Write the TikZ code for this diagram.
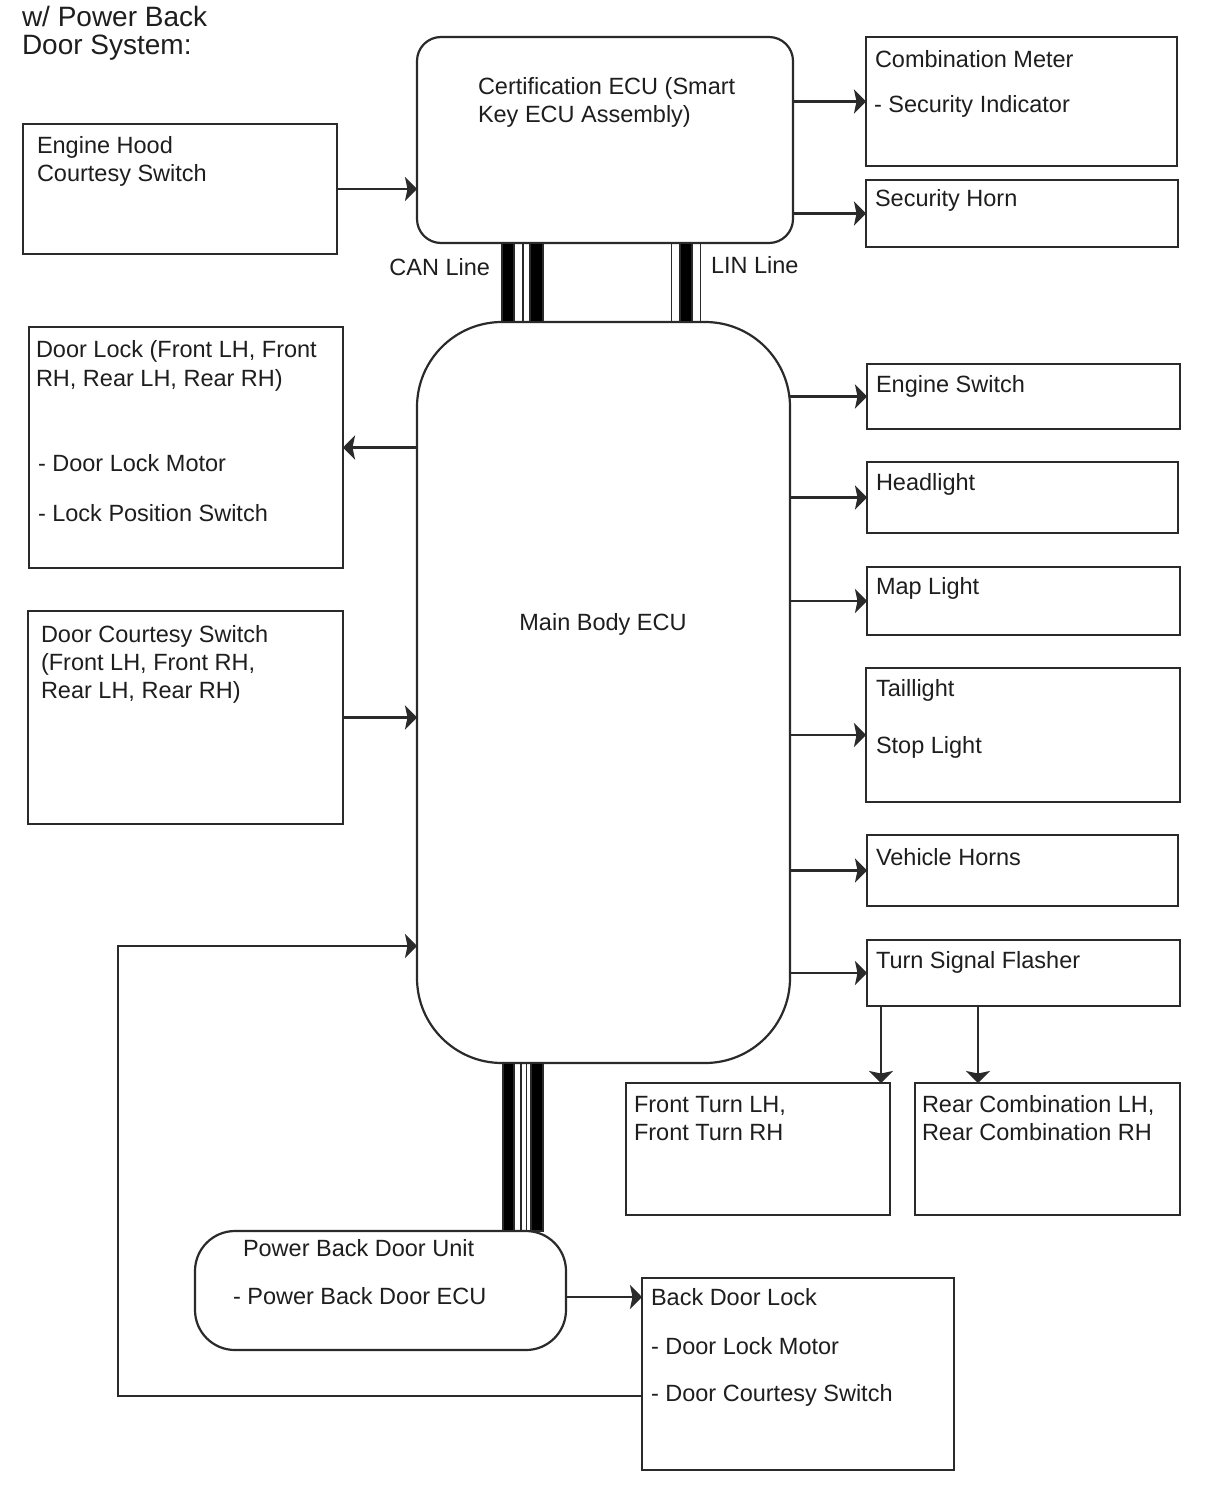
\documentclass[tikz,border=0pt]{standalone}
\usepackage{fontspec}
\setmainfont{Liberation Sans}
\usetikzlibrary{arrows.meta,calc}
\definecolor{lc}{HTML}{2A2A2A}
\definecolor{tc}{HTML}{1E1E1E}
\newcommand\fs{\fontsize{23.5}{28}\selectfont}
\newcommand\fstitle{\fontsize{28}{28}\selectfont}
\tikzset{
  box/.style={draw=lc, line width=2.2pt, rectangle, inner sep=0pt, outer sep=0pt, anchor=north west},
  rbox/.style={box, rounded corners=#1},
  txt/.style={anchor=base west, inner sep=0pt, outer sep=0pt, text=tc, font=\fs},
  arr/.style={draw=lc, line width=2.3pt, -{Stealth[length=12pt,width=24pt,inset=2.5pt]}},
  busfill/.style={fill=black},
  busline/.style={draw=lc, line width=1.8pt},
}
\begin{document}
\begin{tikzpicture}[x=1pt,y=-1pt]
\useasboundingbox[fill=white] (0,0) rectangle (1210,1498);

% title
\node[txt, font=\fstitle] (title1) at (22,27) {w/ Power Back};
\node[txt, font=\fstitle] (title2) at (22,55) {Door System:};

% boxes
\node[rbox=24pt, minimum width=376pt, minimum height=206pt] (cert) at (417,37) {};
\node[box, minimum width=311pt, minimum height=129pt] (cm) at (866,37) {};
\node[box, minimum width=312pt, minimum height=67pt] (sh) at (866,180) {};
\node[box, minimum width=314pt, minimum height=130pt] (hood) at (23,124) {};
\node[rbox=85pt, minimum width=373pt, minimum height=741pt] (main) at (417,322) {};
\node[box, minimum width=314pt, minimum height=241pt] (dl) at (29,327) {};
\node[box, minimum width=315pt, minimum height=213pt] (dcs) at (28,611) {};
\node[box, minimum width=313pt, minimum height=65pt] (es) at (867,364) {};
\node[box, minimum width=311pt, minimum height=71pt] (hl) at (867,462) {};
\node[box, minimum width=313pt, minimum height=68pt] (ml) at (867,567) {};
\node[box, minimum width=314pt, minimum height=134pt] (tl) at (866,668) {};
\node[box, minimum width=311pt, minimum height=71pt] (vh) at (867,835) {};
\node[box, minimum width=313pt, minimum height=66pt] (tsf) at (867,940) {};
\node[box, minimum width=264pt, minimum height=132pt] (ft) at (626,1083) {};
\node[box, minimum width=265pt, minimum height=132pt] (rc) at (915,1083) {};
\node[rbox=40pt, minimum width=371pt, minimum height=119pt] (pbd) at (195,1231) {};
\node[box, minimum width=312pt, minimum height=192pt] (bdl) at (642,1278) {};

% texts
\node[txt] (cert-t1) at (478,95) {Certification ECU (Smart};
\node[txt] (cert-t2) at (478,123) {Key ECU Assembly)};
\node[txt] (cm-t1) at (875,68) {Combination Meter};
\node[txt] (cm-t2) at (874,113) {- Security Indicator};
\node[txt] (sh-t) at (875,207) {Security Horn};
\node[txt] (hood-t1) at (37,154) {Engine Hood};
\node[txt] (hood-t2) at (37,182) {Courtesy Switch};
\node[txt, anchor=base east] (can-t) at (490,275) {CAN Line};
\node[txt] (lin-t) at (711,273) {LIN Line};
\node[txt] (dl-t1) at (36,357) {Door Lock (Front LH, Front};
\node[txt] (dl-t2) at (36,386) {RH, Rear LH, Rear RH)};
\node[txt] (dl-t3) at (38,471) {- Door Lock Motor};
\node[txt] (dl-t4) at (38,521) {- Lock Position Switch};
\node[txt, anchor=base] (main-t) at (603,630) {Main Body ECU};
\node[txt] (dcs-t1) at (41,642) {Door Courtesy Switch};
\node[txt] (dcs-t2) at (41,670) {(Front LH, Front RH,};
\node[txt] (dcs-t3) at (41,698) {Rear LH, Rear RH)};
\node[txt] (es-t) at (876,392) {Engine Switch};
\node[txt] (hl-t) at (876,490) {Headlight};
\node[txt] (ml-t) at (876,594) {Map Light};
\node[txt] (tl-t1) at (876,696) {Taillight};
\node[txt] (tl-t2) at (876,753) {Stop Light};
\node[txt] (vh-t) at (876,865) {Vehicle Horns};
\node[txt] (tsf-t) at (876,968) {Turn Signal Flasher};
\node[txt] (ft-t1) at (634,1112) {Front Turn LH,};
\node[txt] (ft-t2) at (634,1140) {Front Turn RH};
\node[txt] (rc-t1) at (922,1112) {Rear Combination LH,};
\node[txt] (rc-t2) at (922,1140) {Rear Combination RH};
\node[txt] (pbd-t1) at (243,1256) {Power Back Door Unit};
\node[txt] (pbd-t2) at (233,1304) {- Power Back Door ECU};
\node[txt] (bdl-t1) at (651,1305) {Back Door Lock};
\node[txt] (bdl-t2) at (651,1354) {- Door Lock Motor};
\node[txt] (bdl-t3) at (651,1401) {- Door Courtesy Switch};

% connectors
\draw[arr] (hood.east) -- (hood.east -| cert.west);
\draw[arr] (cm.west -| cert.east) -- (cm.west);
\draw[arr] (sh.west -| cert.east) -- (sh.west);
\draw[arr] (dl.east -| main.west) -- (dl.east);
\draw[arr] (dcs.east) -- (dcs.east -| main.west);
\foreach \b in {es,hl,ml,tl,vh,tsf}{
  \draw[arr] (\b.west -| main.east) -- (\b.west);
}
\coordinate (f1) at ($(tsf.south west)+(14,0)$);
\coordinate (f2) at ($(tsf.south west)+(111,0)$);
\draw[arr] (f1) -- (f1 |- ft.north);
\draw[arr] (f2) -- (f2 |- rc.north);
\coordinate (p1) at ($(pbd.east)+(0,6.5)$);
\draw[arr] (p1) -- (p1 -| bdl.west);
\coordinate (b1) at ($(bdl.west)+(0,22)$);
\coordinate (back) at (118,946);
\draw[arr] (b1) -| (back) -- (back -| main.west);

% buses
\path let \p1=(cert.south), \p2=(main.north) in
  [busfill] (502pt,\y1) rectangle (514pt,\y2)
  [busfill] (530pt,\y1) rectangle (543pt,\y2)
  [busline] (523pt,\y1) -- (523pt,\y2);
\path let \p1=(cert.south), \p2=(main.north) in
  [busfill] (680pt,\y1) rectangle (692pt,\y2)
  [busline] (671.5pt,\y1) -- (671.5pt,\y2)
  [busline] (700.5pt,\y1) -- (700.5pt,\y2);
\path let \p1=(main.south), \p2=(pbd.north) in
  [busfill] (503pt,\y1) rectangle (514pt,\y2)
  [busfill] (531pt,\y1) rectangle (543pt,\y2)
  [busline] (521pt,\y1) -- (521pt,\y2)
  [busline] (526.5pt,\y1) -- (526.5pt,\y2);
\end{tikzpicture}
\end{document}
